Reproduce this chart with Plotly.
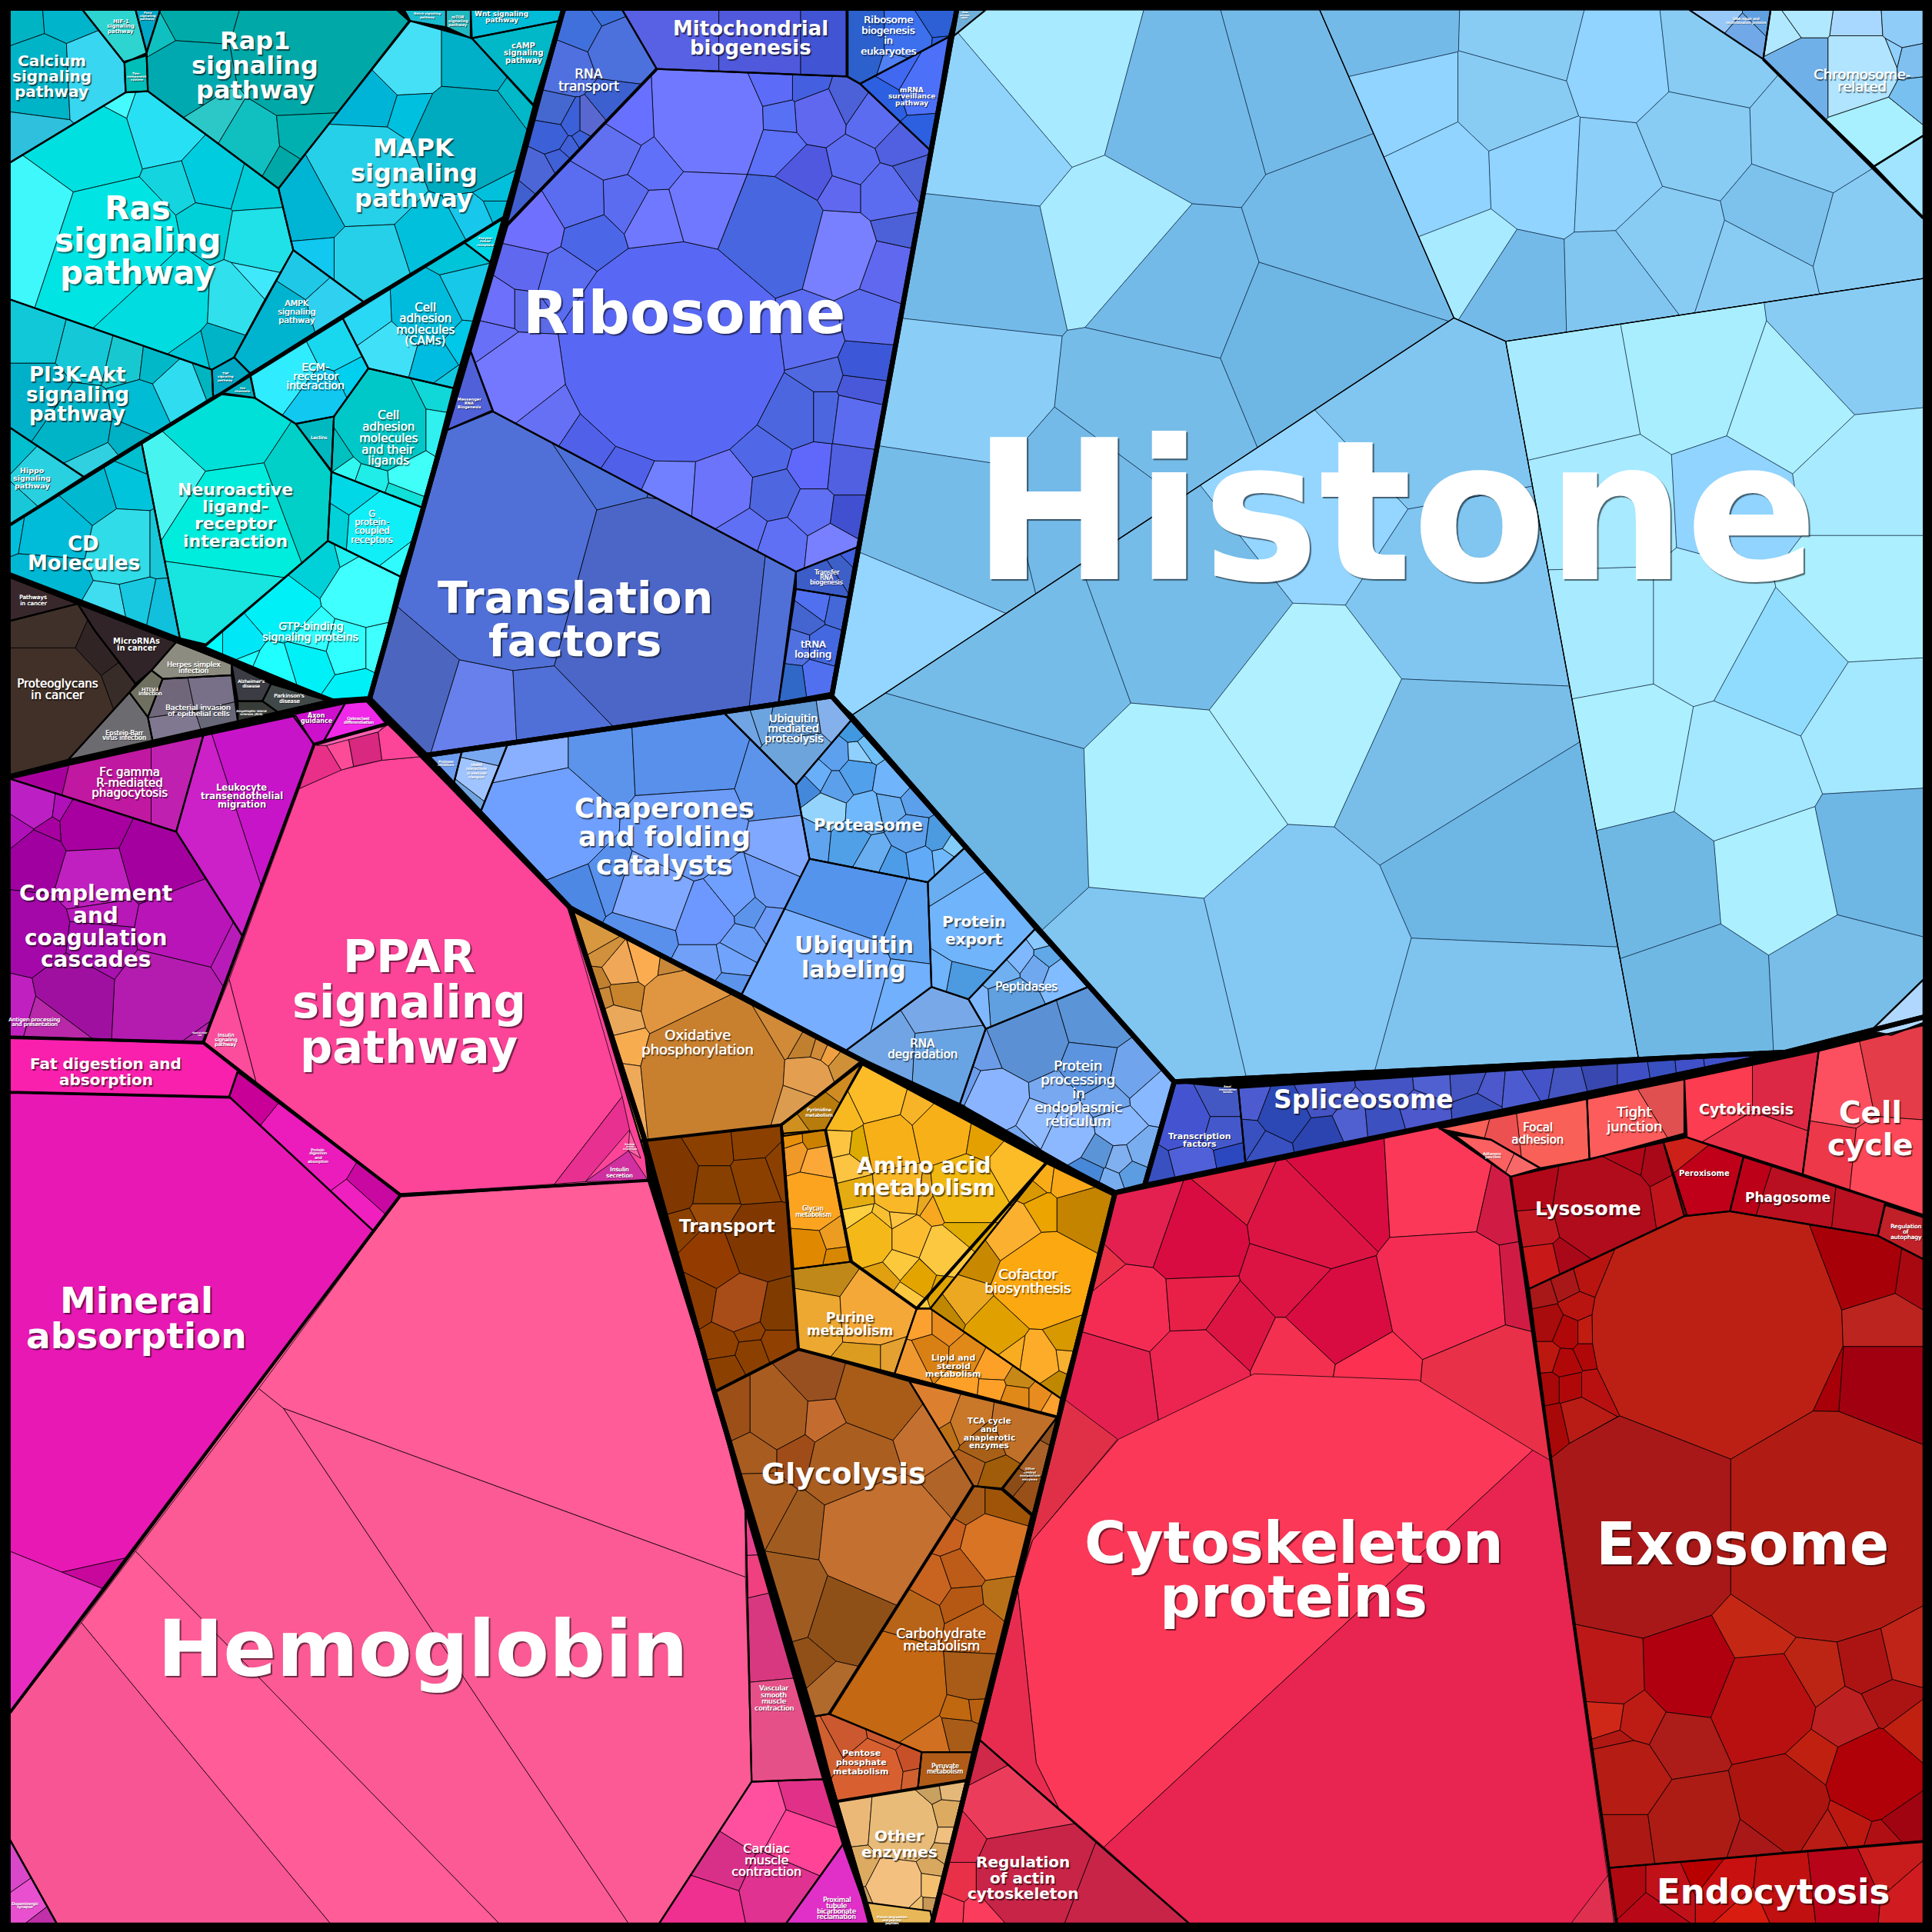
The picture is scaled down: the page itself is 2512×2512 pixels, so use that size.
import plotly.graph_objects as go

# A cell is (x, y, r, colour): a seed and its weight. A group is (outline, cells or one colour).

TOP_OUTLINES = [
    [(5,5),(458,5),(300,567),(270,569),(5,466)],
    [(5,466),(270,569),(55,618),(5,631)],
    [(5,631),(270,569),(298,568),(463,737),(522,921),(579,1127),(708,1563),(5,1563)],
    [(463,737),(905,968),(756,1563),(708,1563),(579,1127),(522,921)],
    [(905,968),(1449,854),(1563,825),(1563,1563),(756,1563)],
    [(458,5),(777,5),(675,565),(346,613),(300,567)],
    [(346,613),(675,565),(953,878),(929,962),(905,968),(463,737)],
    [(953,878),(1449,854),(929,962)],
    [(777,5),(1563,5),(1563,825),(1449,854),(953,878),(675,565)],
]
WALLS = [
    [(408,177),(8,426)], [(1431,48),(1561,177)], [(255,604),(165,846),(325,970),(526,958)], [(8,842),(165,846)],
    [(325,970),(8,1390)], [(255,604),(313,588)], [(520,926),(634,913),(648,1095),(581,1129)], [(648,1095),(858,1150)],
    [(790,1206),(673,1391)], [(679,1462),(784,1445)], [(1226,955),(1312,1561)], [(411,183),(533,56)], [(634,913),(700,862)],
    [(670,917),(691,1024),(744,1062),(849,944)],
]

CYAN_GROUPS = [
    ([(8,8),(67,8),(101,51),(102,75),(8,132)], [(32,62,25,"#00b4c8"),(75,60,22,"#38d6f0"),(25,115,10,"#2ec0dc"),(15,14,4,"#00b4c4"),(55,11,4,"#00b4cc")]),
    ([(67,8),(110,8),(119,43),(101,51)], "#2dd4d0"),
    ([(110,8),(130,8),(119,42)], "#00a8c8"),
    ([(101,50),(119,45),(120,74),(102,75)], "#00bfb8"),
    ([(130,8),(322,8),(332,17),(246,127),(226,153),(120,74),(119,43)], [(245,45,45,"#00a8a8"),(150,18,12,"#00aaa8"),(147,63,28,"#00a9b0"),(128,30,9,"#0fc0c0"),(170,100,14,"#2cc8c8"),(200,118,20,"#10bfc0"),(248,113,12,"#00b0b0"),(233,137,7,"#00a8a8")]),
    ([(328,8),(362,8),(362,22),(333,17)], "#1abcd0"),
    ([(362,8),(382,8),(382,31),(362,22)], "#20b8c0"),
    ([(382,8),(459,8),(454,17),(383,31)], "#00bcd8"),
    ([(383,31),(454,17),(433,85)], "#00b8c8"),
    ([(333,17),(383,31),(433,86),(409,177),(295,245),(238,203),(226,153),(246,127)], [(330,50,24,"#45e0f5"),(385,50,22,"#00b0c8"),(300,80,17,"#00b4d8"),(332,90,6,"#00c0e0"),(380,112,40,"#00aabf"),(297,143,38,"#26d0e8"),(253,167,22,"#00b4d4"),(300,213,27,"#26d0e8"),(350,197,22,"#00c0dc"),(257,213,10,"#10c8f0"),(387,177,9,"#18c8ec"),(403,170,5,"#00bcd8"),(403,157,4,"#00c0dc"),(425,78,5,"#00b8c8")]),
    ([(238,203),(295,245),(203,303),(190,290),(213,247)], [(230,256,16,"#00b4d0"),(268,245,13,"#30d0f0"),(250,225,10,"#20c8e8")]),
    ([(120,74),(226,153),(238,203),(190,290),(172,300),(8,243),(8,132),(102,75)], [(133,103,28,"#28e0f4"),(72,122,38,"#00e0e0"),(30,180,40,"#3ff8fc"),(90,200,55,"#00e4e4"),(173,140,24,"#00cce0"),(143,150,15,"#14d4e0"),(207,150,16,"#00ccd8"),(165,185,15,"#00d0d8"),(210,193,20,"#20e0e8"),(127,240,42,"#00dce0"),(190,243,20,"#30e0ec"),(202,232,8,"#40e8fc"),(177,283,9,"#00b4c8"),(90,88,7,"#44fcff"),(160,287,5,"#00c8d8")]),
    ([(8,243),(172,300),(173,322),(68,387),(8,347)], [(30,273,18,"#10c8d8"),(70,283,20,"#14c8d8"),(100,290,14,"#18c8d0"),(30,320,22,"#00b0c8"),(63,343,25,"#00b4c8"),(112,333,18,"#00bcd4"),(147,317,17,"#30dcf0"),(165,310,5,"#00b4c0"),(77,373,8,"#30d0e0"),(105,350,12,"#00b0c4"),(125,293,8,"#00b8c8")]),
    ([(8,347),(68,387),(8,426)], [(33,387,16,"#28d0e0"),(10,365,6,"#00c0d0"),(12,410,5,"#18c8d8")]),
    ([(377,197),(408,177),(398,213)], "#00d8e8"),
    ([(278,258),(377,197),(398,213),(368,315),(299,299)], [(345,253,25,"#00bcdc"),(377,237,14,"#18c8e8"),(370,207,5,"#00c4d8"),(297,255,17,"#28d8f4"),(317,283,18,"#40e0f8"),(353,293,14,"#00bce0"),(373,280,9,"#00c8e8"),(363,307,4,"#10c8e0")]),
    ([(203,303),(278,258),(299,299),(271,338),(240,344),(207,323)], [(233,300,20,"#30ecff"),(273,280,15,"#18d8f0"),(260,320,16,"#10c8f0"),(287,307,8,"#00d0f0")]),
    ([(172,300),(190,290),(203,303),(180,319),(173,322)], "#00a8c4"),
    ([(180,319),(203,305),(207,323)], "#00b0c0"),
    ([(240,344),(271,338),(269,382)], "#00b8c0"),
    ([(271,338),(299,299),(368,315),(343,412),(269,383)], [(312,347,32,"#00c8c8"),(362,322,5,"#10d8d8"),(358,347,6,"#30f0f0"),(333,387,12,"#40fff8"),(300,390,7,"#20ece8"),(280,383,5,"#30f8f0"),(328,400,6,"#10e0d8"),(273,373,5,"#00c0c0")]),
    ([(269,383),(343,412),(325,468),(266,439)], [(287,400,10,"#00d8e8"),(310,430,25,"#10eef8"),(270,427,4,"#00d0d8"),(323,447,12,"#30fcff")]),
    ([(266,439),(325,468),(300,568),(270,568),(166,525)], [(193,525,12,"#00e8f8"),(257,457,18,"#00d0d8"),(293,480,25,"#40ffff"),(277,452,5,"#20f0f0"),(230,493,20,"#00f0f8"),(280,525,17,"#30ffff"),(253,535,15,"#00f0f8"),(220,545,14,"#20ffff"),(197,535,8,"#20ffff"),(287,559,8,"#00f0f8"),(257,519,14,"#30ffff"),(175,525,5,"#00ffff"),(303,525,6,"#40ffff")]),
    ([(115,360),(180,320),(207,323),(240,344),(269,383),(266,439),(167,523),(146,518)], [(177,350,28,"#00e0d8"),(140,390,20,"#48f4f0"),(187,420,38,"#00ecdd"),(248,397,18,"#00d0c8"),(177,493,25,"#18e4e0")]),
    ([(8,426),(115,360),(146,518),(8,465)], [(25,427,8,"#00c0dc"),(70,400,18,"#00b8d0"),(103,390,12,"#00c4dc"),(43,430,25,"#00bcd8"),(40,467,20,"#00b8d4"),(100,443,22,"#30dce8"),(128,443,7,"#18c8d8"),(92,497,6,"#40dcf0"),(112,493,9,"#18c8e0"),(132,497,10,"#10c0dc"),(107,380,5,"#00c0d0")]),
]

DISEASE_GROUPS = [
    ([(8,504),(63,490),(77,512),(110,555),(105,562),(55,617),(8,629)], [(40,572,45,"#403028"),(40,510,12,"#40302a"),(85,530,6,"#302424"),(100,550,3,"#382c28")]),
    ([(8,467),(63,490),(8,504)], "#38282c"),
    ([(63,490),(143,521),(123,544),(110,555),(77,512)], "#302428"),
    ([(143,521),(188,539),(188,548),(132,551),(123,544)], "#8c8c80"),
    ([(123,544),(132,551),(120,582),(105,562)], "#707060"),
    ([(132,551),(188,548),(193,586),(124,602),(120,582)], [(140,569,12,"#70687a"),(173,562,14,"#787088"),(143,590,12,"#807890"),(177,579,10,"#686878")]),
    ([(105,562),(120,582),(124,602),(55,617)], "#6c6c70"),
    ([(188,539),(220,555),(213,569),(193,569)], "#3c3c44"),
    ([(220,555),(267,569),(227,579),(213,569)], "#404848"),
    ([(193,569),(213,569),(227,579),(193,586)], "#383c38"),
]

PINK_GROUPS = [
    ([(8,632),(55,621),(165,597),(143,675)], [(25,626,9,"#a8009c"),(93,642,30,"#c018a0"),(137,642,15,"#c020b0")]),
    ([(165,597),(240,581),(255,605),(197,760),(143,675)], [(177,675,28,"#cc20c8"),(217,662,30,"#c814c8")]),
    ([(237,580),(280,571),(263,601),(255,604)], "#cc10cc"),
    ([(280,571),(298,569),(313,587),(263,601)], "#f028e8"),
    ([(8,632),(143,675),(197,760),(165,846),(8,841)], [(27,652,17,"#bc20c4"),(50,655,7,"#b010b8"),(75,670,25,"#a800a0"),(13,674,8,"#b010b8"),(40,672,4,"#a800a0"),(30,695,18,"#a000a0"),(127,695,28,"#a400a0"),(77,709,25,"#c020c0"),(23,758,25,"#a408a8"),(80,765,15,"#a810b0"),(150,755,30,"#b814b8"),(137,809,36,"#b41cb0"),(58,805,22,"#a010a0"),(10,815,6,"#c020c0"),(43,825,10,"#b828a8"),(82,742,8,"#b818b8"),(190,775,3,"#b81cb8"),(157,837,5,"#b020a8")]),
    ([(8,842),(165,847),(193,869),(186,890),(8,886)], "#f820ac"),
    ([(193,870),(325,970),(303,999),(186,890)], [(252,930,25,"#ec1cbc"),(311,966,4,"#c808a0"),(293,986,5,"#f020c0"),(193,882,3,"#c80098")]),
    ([(8,887),(187,891),(303,999),(85,1290),(8,1390)], "#e818b4"),
    ([(255,604),(315,588),(343,614),(460,734),(522,921),(526,958),(325,969),(165,847),(197,759)], "#fc4498"),
    ([(325,971),(526,958),(579,1127),(605,1226),(610,1446),(535,1561),(46,1561),(8,1493),(8,1390)], "#ff5c98"),
    ([(605,1226),(610,1446),(668,1444),(605,1226)], [(620,1323,20,"#d83880"),(628,1408,26,"#e65088"),(609,1275,5,"#f04080"),(608,1250,3,"#e8408c")]),
    ([(610,1446),(668,1444),(684,1497),(638,1561),(535,1561)], [(659,1459,14,"#e03088"),(611,1473,20,"#ff50a0"),(647,1493,18,"#ff4498"),(586,1513,15,"#d83088"),(576,1544,15,"#f03090"),(630,1533,22,"#e03290")]),
    ([(684,1497),(707,1561),(638,1561)], "#e030c8"),
    ([(8,1493),(46,1561),(8,1561)], [(28,1540,12,"#e850d0"),(38,1553,4,"#c030a8"),(14,1520,5,"#d848c8")]),
]

ORANGE_GROUPS = [
    ([(463,737),(699,861),(634,913),(520,926)], [(552,814,25,"#e09640"),(481,761,10,"#d89840"),(502,786,11,"#f0a858"),(523,780,7,"#fcac50"),(546,783,4,"#c88838"),(489,775,6,"#d0903c"),(487,794,4,"#c08030"),(504,807,6,"#c8842c"),(491,810,3,"#c88838"),(499,828,9,"#eaa85a"),(504,849,6,"#f8ac50"),(500,878,9,"#eeaa58"),(579,870,55,"#c8802f"),(636,836,13,"#d08a38"),(657,875,14,"#e49e50"),(651,892,8,"#dc9c50"),(655,847,5,"#c08030"),(665,850,4,"#d08a38"),(674,854,3,"#f0a040"),(686,864,8,"#d09038")]),
    ([(634,913),(700,862),(670,917),(636,922)], [(661,902,9,"#b87c0c"),(682,875,5,"#d08c20"),(643,915,4,"#d09020")]),
    ([(670,917),(700,864),(849,944),(755,1062),(744,1062),(691,1024)], [(713,890,18,"#fcbc28"),(682,905,10,"#f8b820"),(746,899,8,"#f8b428"),(681,929,8,"#fcc440"),(697,931,5,"#dcaa00"),(722,926,18,"#f8b018"),(764,917,20,"#f8b018"),(800,923,7,"#e4a000"),(824,944,15,"#fcbc28"),(685,947,8,"#fcc440"),(691,971,10,"#e4ac10"),(694,987,8,"#fcd040"),(706,1005,18,"#f4b818"),(716,993,5,"#f8c030"),(729,991,3,"#fcc440"),(737,1005,13,"#fcbc30"),(761,977,8,"#f8a820"),(752,971,6,"#e8a820"),(782,968,25,"#f0b810"),(782,999,9,"#e0ac00"),(767,1017,17,"#fcc840"),(731,1024,8,"#fcc83c"),(747,1038,10,"#e4a400"),(716,1038,6,"#e0a010"),(737,1053,5,"#fcc840"),(764,1044,4,"#e0a400"),(731,968,15,"#f8b828")]),
    ([(635,920),(670,917),(690,1024),(644,1030)], [(643,926,4,"#e8900c"),(661,925,6,"#cc8000"),(646,935,6,"#f09828"),(664,941,9,"#fca838"),(658,975,20,"#fca420"),(655,1014,11,"#e08800"),(679,1005,5,"#ec9c20"),(681,1020,4,"#d88800")]),
    ([(849,944),(905,971),(861,1135),(755,1062)], [(875,984,12,"#c48400"),(844,953,5,"#f8ac18"),(867,956,8,"#f8a818"),(834,965,5,"#d89800"),(819,999,22,"#fcb030"),(843,984,8,"#eca400"),(846,1038,35,"#fca810"),(794,1017,14,"#c88800"),(782,1056,10,"#eca820"),(770,1065,4,"#c08800"),(807,1080,17,"#e0a000"),(843,1105,15,"#fcac28"),(823,1102,8,"#f8ac20"),(864,1102,5,"#f8b030"),(865,1090,5,"#d89800"),(855,1123,5,"#c08800")]),
    ([(643,1030),(691,1024),(744,1062),(726,1115),(648,1095)], [(667,1035,6,"#c08818"),(661,1068,14,"#eca830"),(710,1065,22,"#f4a838"),(707,1106,5,"#dc9c20"),(723,1106,6,"#e4a030")]),
    ([(744,1062),(755,1062),(861,1135),(858,1150),(726,1115)], [(746,1075,8,"#fca030"),(767,1075,8,"#e88c20"),(752,1096,9,"#d88014"),(740,1102,8,"#f09830"),(788,1099,9,"#e08818"),(806,1108,12,"#fca028"),(805,1128,9,"#fca028"),(785,1126,5,"#fca028"),(826,1120,6,"#c88818"),(824,1135,10,"#e08818"),(843,1135,6,"#e88c20"),(853,1141,3,"#fca030")]),
    ([(520,926),(634,913),(648,1095),(581,1129)], [(540,956,25,"#803800"),(579,932,12,"#8c4000"),(610,929,12,"#8c4000"),(579,962,14,"#884000"),(612,953,13,"#8c4000"),(579,985,6,"#9c4c08"),(552,999,6,"#8c4000"),(616,1008,24,"#803800"),(576,1023,20,"#943c00"),(561,1053,18,"#8c3c00"),(600,1059,19,"#a84c18"),(631,1065,12,"#803c00"),(608,1080,4,"#904000"),(585,1092,9,"#904000"),(631,1091,8,"#904000"),(588,1111,9,"#8c4000"),(610,1099,8,"#8c4000"),(628,947,3,"#8c4000")]),
    ([(581,1129),(648,1095),(738,1121),(790,1206),(673,1391),(661,1393)], [(596,1150,14,"#9c5018"),(630,1150,22,"#a85c20"),(664,1118,10,"#985020"),(712,1132,28,"#a85c18"),(667,1153,6,"#c46c30"),(646,1180,5,"#a04c18"),(610,1180,14,"#a85c20"),(690,1190,30,"#aa5e20"),(757,1169,17,"#c47030"),(776,1198,6,"#b06428"),(611,1225,28,"#a85c20"),(648,1245,22,"#a05c20"),(715,1252,50,"#c47030"),(640,1294,34,"#a05c20"),(690,1310,35,"#8f5018"),(656,1350,12,"#905018"),(676,1372,14,"#b06a2c")]),
    ([(738,1121),(858,1150),(813,1208),(790,1206)], [(758,1147,13,"#dc8030"),(782,1156,8,"#c87828"),(828,1162,12,"#c07028"),(788,1192,8,"#b0601c"),(806,1198,8,"#a05c08"),(767,1162,5,"#bc7018"),(797,1174,9,"#a86018")]),
    ([(858,1150),(838,1229),(814,1208)], [(849,1159,5,"#8c5020"),(837,1180,9,"#a86028"),(833,1213,5,"#985018"),(822,1204,4,"#8c4c18")]),
    ([(790,1206),(813,1209),(837,1230),(789,1422),(748,1422),(673,1391)], [(726,1368,38,"#c46814"),(742,1311,14,"#b86418"),(784,1220,8,"#a85a18"),(815,1220,8,"#a05408"),(805,1255,22,"#d87424"),(769,1246,6,"#c86020"),(757,1283,12,"#c86420"),(780,1275,12,"#bc5c18"),(782,1300,10,"#b45814"),(811,1297,4,"#b87018"),(792,1320,14,"#bc6018"),(790,1363,14,"#a85c18"),(757,1414,6,"#d07020"),(782,1408,10,"#a85c18"),(784,1389,3,"#c06810"),(791,1388,3,"#b86010")]),
    ([(661,1393),(673,1391),(748,1422),(745,1451),(679,1462)], [(675,1420,8,"#d06030"),(686,1414,10,"#cc5830"),(707,1439,24,"#d86030"),(739,1428,6,"#c85028"),(742,1443,3,"#d06030"),(720,1408,5,"#cc5830")]),
    ([(748,1422),(789,1422),(784,1445),(745,1451)], "#b05c18"),
    ([(679,1462),(784,1445),(756,1561),(705,1561)], [(695,1479,15,"#ecb878"),(732,1482,28,"#e8bc78"),(767,1473,8,"#dcaa60"),(769,1451,4,"#e4b878"),(757,1453,3,"#c8a060"),(767,1490,4,"#f0c080"),(766,1503,5,"#d8a860"),(757,1516,5,"#d8a860"),(699,1516,13,"#dcaa60"),(726,1530,22,"#f4c080"),(755,1530,8,"#f4c070"),(742,1547,6,"#ecc070"),(754,1547,3,"#c89858"),(703,1540,3,"#c8a060")]),
    ([(703,1544),(755,1551),(757,1561),(708,1561)], "#e8b858"),
]

RED_GROUPS = [
    ([(905,968),(1166,914),(1226,955),(1312,1561),(965,1561),(795,1412)], [(927,990,32,"#e42050"),(967,1004,32,"#d80c40"),(1002,962,8,"#e02040"),(1064,990,40,"#dc1444"),(1082,972,35,"#d80c40"),(1051,1032,25,"#dc1444"),(1086,1065,32,"#d80c40"),(1170,967,35,"#fc3858"),(1175,1046,45,"#f42c54"),(1215,977,12,"#d01c44"),(1226,1042,10,"#d01c44"),(918,1060,27,"#f42c54"),(969,1056,17,"#e82048"),(1002,1079,14,"#dc1444"),(971,1112,28,"#ec2450"),(900,1121,28,"#e42050"),(1051,1102,18,"#f43050"),(1113,1112,10,"#fc3050"),(1206,1120,35,"#e83048"),(892,1028,5,"#e83048"),(1050,1350,200,"#fc3858")]),
    ([(795,1412),(965,1561),(756,1561)], [(800,1425,10,"#d02848"),(819,1462,24,"#ec3c5c"),(830,1525,35,"#c82448"),(775,1525,10,"#e83048"),(765,1550,6,"#f83858"),(800,1552,8,"#fc3c5c"),(775,1500,7,"#e02c4c"),(900,1552,12,"#c82448")]),
    ([(1241,1046),(1367,987),(1404,983),(1524,1003),(1561,1022),(1561,1495),(1306,1516),(1258,1177)], [(1392,1079,100,"#bc2014"),(1516,1032,25,"#a80008"),(1551,1037,12,"#a80810"),(1529,1074,22,"#bc2420"),(1529,1126,35,"#a00010"),(1487,1123,6,"#a80008"),(1330,1238,85,"#a81818"),(1485,1238,90,"#b01c14"),(1255,1074,9,"#a80c0c"),(1250,1049,5,"#a81818"),(1272,1042,6,"#a81818"),(1290,1037,9,"#b81410"),(1281,1060,6,"#b81410"),(1272,1081,7,"#b00808"),(1290,1081,8,"#c01c10"),(1255,1102,6,"#bc1810"),(1270,1107,5,"#b00808"),(1290,1098,5,"#b00808"),(1257,1126,6,"#a80808"),(1274,1126,6,"#b00808"),(1294,1126,7,"#b81010"),(1263,1154,7,"#a80808"),(1281,1150,12,"#b81c14"),(1305,1359,22,"#bc1818"),(1370,1357,30,"#b00010"),(1432,1382,35,"#b81010"),(1330,1396,8,"#bc1c14"),(1303,1392,7,"#d02818"),(1363,1413,14,"#ac1c18"),(1427,1326,8,"#c42814"),(1317,1443,28,"#b41c14"),(1317,1490,14,"#ac1814"),(1374,1482,30,"#ac1c14"),(1449,1464,30,"#ac1410"),(1520,1443,33,"#b00008"),(1471,1359,14,"#bc2414"),(1498,1396,13,"#bc2020"),(1520,1350,16,"#ac1414"),(1542,1345,14,"#c02418"),(1533,1378,8,"#ac1414"),(1502,1478,12,"#bc1810"),(1542,1475,12,"#a00410"),(1485,1487,8,"#b81c14"),(1529,1487,4,"#b01014"),(1423,1499,5,"#a81818"),(1476,1429,4,"#c02010"),(1312,1420,5,"#b01814"),(1553,1405,5,"#c02010")]),
    ([(1226,955),(1350,927),(1369,986),(1241,1046)], [(1301,981,38,"#b00c1c"),(1359,972,12,"#c0141c"),(1244,972,8,"#b00818"),(1321,941,8,"#b00818"),(1345,945,6,"#a80818"),(1246,995,12,"#c01820"),(1250,1028,14,"#c81818"),(1272,1023,8,"#a80818")]),
    ([(1350,927),(1369,923),(1415,939),(1404,983),(1367,987)], [(1383,962,18,"#c00018"),(1359,932,5,"#cc2018")]),
    ([(1415,939),(1530,976),(1524,1003),(1404,983)], [(1414,967,9,"#bc0018"),(1458,981,26,"#b81020"),(1507,986,12,"#b81020")]),
    ([(1530,978),(1561,988),(1561,1022),(1524,1003)], "#c02028"),
    ([(1168,916),(1288,892),(1290,941),(1250,948),(1210,925)], [(1255,916,20,"#f86058"),(1219,920,8,"#ec5050"),(1193,913,10,"#f86058")]),
    ([(1180,921),(1210,925),(1250,948),(1226,955)], [(1216,935,6,"#fc6060"),(1238,945,5,"#f86868")]),
    ([(1288,892),(1367,876),(1367,920),(1290,941)], [(1325,916,16,"#fc5c5c"),(1356,897,10,"#e05050")]),
    ([(1367,876),(1476,853),(1463,953),(1369,923)], [(1396,883,20,"#fc3c50"),(1445,883,15,"#dc2844"),(1427,934,20,"#e83048")]),
    ([(1476,853),(1561,832),(1561,986),(1463,953)], [(1494,883,25,"#fc5060"),(1538,874,25,"#e43c48"),(1485,939,20,"#ec3848"),(1533,944,30,"#fc4858")]),
    ([(1306,1516),(1561,1494),(1561,1561),(1312,1561)], [(1321,1531,10,"#b00810"),(1352,1531,12,"#c01018"),(1401,1531,14,"#c81010"),(1449,1536,20,"#c01010"),(1494,1531,22,"#b80418"),(1533,1513,12,"#c81c1c"),(1553,1536,10,"#d01c20"),(1383,1517,5,"#b80000"),(1339,1550,8,"#b80818"),(1418,1550,9,"#d81c10")]),
]

BLUE_GROUPS = [
    ([(458,8),(505,8),(533,56),(411,183)], [(472,22,12,"#4070dc"),(503,39,20,"#4c70dc"),(459,55,14,"#5070e0"),(497,86,10,"#3c60d0"),(480,100,9,"#5868d0"),(464,100,6,"#3c60d8"),(451,93,6,"#4468d0"),(448,111,10,"#3c60d8"),(462,120,5,"#4060d8"),(473,113,4,"#3c60d8"),(434,140,12,"#4c66d8"),(454,129,5,"#4060d8"),(420,157,7,"#4060d0"),(491,9,5,"#3c70dc")]),
    ([(412,183),(533,56),(687,62),(698,68),(755,122),(696,444),(646,464),(400,334),(382,285)], [(546,286,88,"#5868f4"),(575,97,42,"#7078ff"),(572,168,26,"#7078ff"),(628,190,40,"#4866e0"),(508,100,16,"#6870ff"),(533,179,19,"#7078ff"),(508,165,13,"#5c6cf0"),(531,134,12,"#6070f8"),(497,118,18,"#6070f0"),(469,166,17,"#5a6cf0"),(479,195,18,"#4c66e8"),(436,186,17,"#7070ff"),(429,218,15,"#6068f0"),(458,226,20,"#5a6cf0"),(408,250,12,"#6c70fa"),(425,250,10,"#5c6ce8"),(402,276,10,"#6870f8"),(422,304,30,"#7478ff"),(447,336,14,"#6670f4"),(480,358,14,"#5060e8"),(511,379,14,"#5060e8"),(544,394,18,"#7080ff"),(586,397,22,"#6c74fc"),(628,401,16,"#4e66e0"),(606,430,8,"#6070f4"),(636,440,14,"#6070f4"),(675,444,16,"#7880ff"),(659,415,14,"#6070f4"),(689,419,12,"#4050d0"),(689,383,14,"#5060e0"),(659,380,12,"#6068fc"),(643,336,22,"#4c66e0"),(664,336,14,"#4c66e0"),(620,369,14,"#5068e8"),(695,340,16,"#5c6cf0"),(700,317,8,"#4858d8"),(703,293,12,"#3c58d8"),(664,304,8,"#5068e0"),(656,272,22,"#5c6cf0"),(706,258,18,"#5c6cf0"),(720,218,22,"#6068f0"),(681,204,30,"#7880ff"),(726,190,12,"#4c60d8"),(720,157,18,"#5c6cf0"),(684,157,8,"#6068f0"),(656,140,13,"#5058e0"),(692,132,13,"#5c6cf0"),(739,143,10,"#4c60d8"),(731,118,12,"#5060e0"),(709,97,16,"#5c6cf0"),(687,82,11,"#4c60d8"),(664,93,18,"#6068f0"),(634,118,9,"#5c70f8"),(636,95,9,"#5870f4"),(656,72,9,"#4460e0"),(631,72,8,"#5c6cf8")]),
    ([(382,285),(400,333),(363,349)], "#5060d8"),
    ([(505,8),(687,8),(687,62),(533,56)], [(550,35,20,"#5860e4"),(620,35,25,"#5058dc"),(670,35,12,"#4054d4")]),
    ([(688,8),(776,8),(770,30),(698,68),(688,62)], [(700,36,14,"#2c60cc"),(737,36,16,"#3c70ec"),(765,18,8,"#2c60d4"),(734,47,12,"#5080f4"),(767,39,4,"#3060e0")]),
    ([(698,68),(770,30),(755,122)], [(717,79,7,"#2c60e0"),(745,70,10,"#4c70f8"),(748,114,4,"#2c60e0"),(728,60,5,"#4068f0")]),
    ([(363,349),(400,334),(646,464),(632,570),(346,613),(300,567)], [(420,460,75,"#5070d8"),(530,490,85,"#4c66c8"),(508,401,8,"#4c70d8"),(541,408,5,"#5074dc"),(634,501,8,"#5070d8"),(330,565,20,"#4c66c0"),(395,585,25,"#6880ec"),(434,583,18,"#5070d8")]),
    ([(646,464),(696,444),(689,485),(646,478)], [(667,469,8,"#3c5cc8"),(684,458,4,"#3c60c8"),(689,453,3,"#4060e0")]),
    ([(646,478),(689,485),(676,562),(632,570)], [(661,490,8,"#5070f0"),(681,494,5,"#4468d8"),(653,501,7,"#4464d0"),(645,526,9,"#5070e0"),(670,526,10,"#4468e0"),(664,548,8,"#5070f0"),(642,551,6,"#3068c8")]),
]

FOLDING_GROUPS = [
    ([(345,613),(375,609),(368,637)], "#6c9cf0"),
    ([(375,609),(412,604),(390,659),(368,637)], [(388,632,12,"#a0c4ff"),(378,645,6,"#70a4e0"),(393,610,5,"#78a8f0")]),
    ([(412,604),(586,577),(646,637),(657,697),(602,807),(463,737),(390,659)], [(435,616,20,"#88b0ff"),(489,616,22,"#5c94ec"),(552,613,36,"#5890ec"),(445,666,42,"#70a0ff"),(556,672,35,"#6c9cf8"),(529,727,25,"#80a8ff"),(575,744,17,"#6c98ff"),(596,727,12,"#70a0ff"),(634,638,6,"#5c94ec"),(640,691,13,"#80a8ff"),(628,719,13,"#6c9cf8"),(468,725,12,"#4c88e4"),(495,716,4,"#5890ec"),(521,755,14,"#5890ec"),(609,741,6,"#5c94ec"),(625,750,7,"#6c9cf8"),(603,766,11,"#6ca0f8"),(596,779,10,"#70a4fc"),(575,783,6,"#70a0f8"),(594,798,5,"#5c94ec")]),
    ([(586,577),(675,564),(693,582),(646,637)], [(644,582,16,"#6098d4"),(678,577,7,"#84b0ec"),(648,610,12,"#6ea4dc"),(602,582,6,"#70a4e4"),(617,577,5,"#6ca4e0")]),
    ([(646,637),(693,582),(783,688),(753,716),(657,697)], [(678,613,7,"#5ca0ee"),(663,630,7,"#68aef8"),(655,638,5,"#4488dc"),(695,628,9,"#50a0ec"),(726,633,11,"#70b4fc"),(678,638,7,"#5ca0ec"),(670,658,10,"#94d4fc"),(703,660,10,"#70b8fc"),(722,656,6,"#68aef0"),(743,649,6,"#5ca0ec"),(659,680,8,"#60a4f0"),(690,683,10,"#50a0e8"),(709,694,7,"#68aef0"),(726,702,6,"#4c9ce8"),(739,677,10,"#5ca0ec"),(762,680,5,"#4c9ae0"),(747,699,6,"#60aaf8"),(766,697,3,"#70b8fc"),(773,687,3,"#84ccf8"),(697,612,3,"#90d0ff"),(707,605,6,"#70c0f8"),(695,591,4,"#4098e0")]),
    ([(657,697),(753,716),(756,801),(686,853),(602,807)], [(690,727,30,"#5494ec"),(747,750,6,"#5ca0f0"),(667,794,45,"#78aeff"),(739,814,14,"#70b0fc")]),
    ([(753,716),(783,688),(840,754),(786,811),(756,801)], [(768,716,8,"#68aef0"),(789,750,30,"#70b4fc"),(778,797,5,"#4c9ae0"),(762,794,4,"#70b4fc")]),
    ([(840,754),(883,801),(800,835),(786,811)], [(821,814,16,"#60a0e0"),(842,786,5,"#70a8f0"),(827,775,6,"#80b8ff"),(863,794,12,"#80bcff"),(846,761,4,"#88c8ff"),(793,816,4,"#80b8ff"),(812,789,7,"#70b0f0"),(850,776,4,"#60a8e8")]),
    ([(686,853),(756,801),(786,811),(800,835),(779,896)], [(766,822,20,"#78a8e8"),(770,856,25,"#68a4e4"),(716,853,22,"#70a4e4")]),
    ([(800,835),(883,801),(953,878),(929,962),(905,968),(779,896)], [(834,844,28,"#5c90d4"),(888,828,20,"#5c94d8"),(919,872,13,"#70a4ec"),(884,864,16,"#5c94e0"),(808,892,22,"#8ab4ff"),(789,883,7,"#6c9cec"),(804,856,6,"#6c9ce8"),(854,889,8,"#78a8f0"),(900,892,8,"#70a4ec"),(934,889,9,"#88b8ff"),(865,920,18,"#8cb8ff"),(907,914,11,"#88b8ff"),(892,936,5,"#5c94d8"),(909,942,6,"#80b0f0"),(926,936,5,"#78aef0"),(919,953,7,"#5c9ce0"),(902,959,4,"#78aef0"),(884,953,5,"#4888d8"),(827,931,8,"#78a8f0"),(787,911,5,"#7aa8f0"),(846,911,15,"#90bcff")]),
]

SPLICE_GROUPS = [
    ([(953,878),(1005,883),(1011,946),(929,962)], [(962,911,15,"#4454d0"),(993,895,6,"#4458c4"),(993,920,10,"#4458cc"),(971,944,12,"#5060d8"),(936,953,5,"#3850c0"),(998,939,7,"#2c48c0")]),
    ([(1005,883),(1449,854),(1011,946)], [(1042,902,15,"#2c48b4"),(1073,925,10,"#2c44b0"),(1027,934,5,"#3850c0"),(1016,892,6,"#4c5cd0"),(1013,925,3,"#3850c0"),(1100,913,8,"#5060d0"),(1122,911,12,"#3c50c0"),(1153,902,11,"#4c58cc"),(1193,876,8,"#4454c0"),(1210,883,6,"#4c58cc"),(1232,885,8,"#4c5cd0"),(1201,899,6,"#3c50bc"),(1250,874,6,"#4454c8"),(1272,878,10,"#4454c0"),(1299,871,10,"#3848b0"),(1325,871,8,"#4050c4"),(1350,867,5,"#3850c0"),(1370,865,5,"#4050c8"),(1396,862,4,"#4050c8"),(1162,878,5,"#5060d0"),(1069,888,10,"#4454c4"),(1131,881,7,"#4454c4")]),
]

# the four big histone families have hairline borders
HISTONE_FAMILIES = [
    ([(777,8),(1071,8),(1180,258),(692,580),(675,565)], [(858,62,55,"#a8eaff"),(805,107,50,"#90d4fc"),(962,90,55,"#74bae8"),(1046,67,45,"#74bae8"),(906,191,42,"#a8eaff"),(1091,185,45,"#74bae8"),(951,230,42,"#74bae8"),(793,216,48,"#74bae8"),(1063,275,45,"#6eb6e4"),(782,315,50,"#8acef8"),(928,331,45,"#76bce8"),(765,427,50,"#76bce8"),(878,399,45,"#74bae8"),(732,506,45,"#94d6ff")]),
    ([(1071,8),(1371,8),(1431,48),(1521,135),(1561,177),(1561,226),(1222,277),(1180,258)], [(1130,31,20,"#74bae8"),(1240,34,25,"#88ccf4"),(1316,53,28,"#90d4ff"),(1389,45,30,"#88ccf4"),(1142,84,30,"#90d4ff"),(1226,84,32,"#88ccf4"),(1170,143,33,"#90d4ff"),(1248,140,33,"#90d4ff"),(1195,208,22,"#a8eaff"),(1229,230,25,"#74bae8"),(1307,143,28,"#8ccff8"),(1375,115,30,"#88ccf4"),(1355,194,28,"#88ccf4"),(1310,228,22,"#80c6f0"),(1467,112,30,"#88ccf4"),(1445,174,25,"#7cc2ec"),(1423,216,22,"#88ccf4"),(1518,194,28,"#88ccf4")]),
    ([(692,580),(1180,258),(1222,277),(1330,860),(953,878)], [(1153,331,55,"#80c6f0"),(1069,410,40,"#94d6ff"),(962,494,50,"#76bce8"),(1181,483,50,"#80c6f0"),(838,539,45,"#76bce8"),(1063,573,45,"#b0f0ff"),(805,657,60,"#6eb6e4"),(948,652,47,"#acefff"),(1175,624,52,"#78bee8"),(1220,697,60,"#6eb6e4"),(934,798,45,"#80c6f0"),(1052,770,52,"#84c8f4"),(1215,815,40,"#7ec4ee")]),
    ([(1222,277),(1561,226),(1561,795),(1518,837),(1449,854),(1330,860)], [(1277,315,45,"#a8eaff"),(1372,298,48,"#a8eeff"),(1453,326,42,"#acefff"),(1501,281,45,"#88ccf4"),(1299,410,45,"#a8eaff"),(1408,404,30,"#90d4ff"),(1512,388,40,"#a8eaff"),(1302,508,40,"#a8eaff"),(1380,508,38,"#a8eaff"),(1448,545,38,"#90dcff"),(1512,483,42,"#acefff"),(1518,590,42,"#a4e8ff"),(1321,612,38,"#acefff"),(1414,629,42,"#a4e8ff"),(1442,711,42,"#acefff"),(1347,719,40,"#70b8e4"),(1524,694,42,"#6eb6e4"),(1378,809,45,"#70b8e4"),(1496,803,45,"#78bee8")]),
]
HISTONE_SIDE_GROUPS = [
    ([(1371,8),(1437,8),(1431,48)], [(1400,12,5,"#98c8f8"),(1415,25,6,"#70a8e8"),(1428,12,4,"#60a0e0")]),
    ([(1431,48),(1437,8),(1561,8),(1561,110),(1521,135)], [(1462,53,17,"#70b0e8"),(1512,53,25,"#b0e4ff"),(1530,107,18,"#a8f0ff"),(1512,22,10,"#a8d8ff"),(1546,20,14,"#90ccf8"),(1462,15,6,"#b0e8ff"),(1552,50,6,"#80c0f0"),(1555,76,5,"#78c0f0"),(1448,25,4,"#b0e8ff"),(1532,45,4,"#90d0ff")]),
    ([(1521,135),(1561,110),(1561,177)], "#a0e4ff"),
    ([(1518,837),(1561,795),(1561,830),(1535,840)], "#b0d8ff"),
    ([(773,30),(800,8),(777,8)], "#70b0d8"),
]

# large cells with straight shared edges, painted over the seeded cells
PLAIN_CELLS = [
    ([(325,971),(526,958),(579,1127),(605,1226),(605,1280),(230,1143),(210,1127)], "#ff5c98"),
    ([(230,1143),(605,1280),(610,1446),(535,1561),(510,1561)], "#fc5a94"),
    ([(210,1127),(230,1143),(510,1561),(405,1561),(110,1259)], "#fc5a94"),
    ([(110,1259),(405,1561),(268,1561),(66,1317)], "#ff5c98"),
    ([(66,1317),(268,1561),(46,1561),(8,1493),(8,1390)], "#f85594"),
    ([(8,887),(187,891),(303,999),(104,1264),(50,1276),(8,1259)], "#e818b4"),
    ([(50,1276),(104,1264),(85,1290)], "#c8089c"),
    ([(8,1259),(85,1290),(8,1390)], "#e82cc0"),
    ([(243,640),(276,625),(310,617),(343,614),(460,734),(505,890),(450,961),(325,969),(208,879),(186,795)], "#fc4498"),
    ([(165,847),(186,795),(208,879)], "#fc4c9c"),
    ([(255,604),(265,605),(277,625),(243,640)], "#e83088"),
    ([(265,605),(283,600),(287,622),(277,625)], "#fc4c98"),
    ([(283,600),(307,594),(310,617),(287,622)], "#d82880"),
    ([(307,594),(315,588),(343,614),(310,617)], "#fc4498"),
    ([(257,605),(313,588),(307,594),(265,605)], "#fc60b0"),
    ([(450,961),(505,890),(511,917),(475,959)], "#e83090"),
    ([(475,959),(510,934),(526,958)], "#d030a0"),
    ([(510,934),(511,917),(520,940)], "#fc60a8"),
    ([(1018,1115),(1151,1120),(1244,1177),(896,1499),(859,1467),(841,1431),(826,1290),(838,1250),(908,1168)], "#fc3858"),
    ([(1244,1177),(1258,1185),(1310,1561),(965,1561),(896,1499)], "#e82450"),
    ([(863,1135),(907,1168),(838,1250),(824,1290)], "#e03048"),
    ([(826,1290),(841,1431),(859,1467),(795,1412)], "#e82c50"),
    ([(1275,1561),(1305,1522),(1310,1561)], "#e03050"),
]

# text (lines split by |), centre x, y of first line, line step, font px, bold
LABELS = [
    ("Histone",1132,415,0,254,1),("Hemoglobin",343,1338,0,102,1),("Ribosome",555,254,0,76,1),
    ("Translation|factors",467,485,35,57,1),("Cytoskeleton|proteins",1050,1252,44,74,1),("Exosome",1414,1253,0,76,1),
    ("Endocytosis",1439,1535,0,45,1),("PPAR|signaling|pathway",332,776,37,59,1),("Mineral|absorption",111,1055,29,47,1),
    ("Complement|and|coagulation|cascades",78,725,18,28,1),("Ras|signaling|pathway",112,169,26,42,1),
    ("Rap1|signaling|pathway",207,33,20,32,1),("MAPK|signaling|pathway",336,120,20.5,32,1),("Calcium|signaling|pathway",42,49,12.5,20,1),
    ("PI3K-Akt|signaling|pathway",63,304,16,26,1),("CD|Molecules",68,441,16,26,1),("Neuroactive|ligand-|receptor|interaction",191,397,14,22,1),
    ("Cell|adhesion|molecules|and their|ligands",315,337,9.3,15,0),("Cell|adhesion|molecules|(CAMs)",345,249.5,9,15,0),
    ("ECM-|receptor|interaction",256,298,7.5,14,0),("G|protein-|coupled|receptors",302,417,7,11.5,0),("GTP-binding|signaling proteins",252,508,9,14,0),
    ("AMPK|signaling|pathway",241,246,7,11,0),("cAMP|signaling|pathway",425,37,6,10,1),("Wnt signaling|pathway",407,11,5.2,9,1),
    ("HIF-1|signaling|pathway",98,17.5,4,7,1),("Foxo|signaling|pathway",120,10,2.7,4,1),("Two-|component|system",111,59.5,2.5,4,1),
    ("Notch signaling|pathway",347,11,3,4,1),("mTOR|signaling|pathway",372,14,3,5,1),("Enzyme-|linked|receptors",394,193,2.8,4,1),
    ("Lectins",259,355,0,6,0),("TNF|signaling|pathway",183,303,2.7,4,1),("Ion|channels",197,315,2.5,4,1),("Hippo|signaling|pathway",26,382,6.2,9.5,1),
    ("Pathways|in cancer",27,485,4.5,7.5,0),("Messenger|RNA|Biogenesis",381,324,3.3,5,1),("RNA|transport",478,60,10,17,0),
    ("Mitochondrial|biogenesis",609,23,16,26,1),("Ribosome|biogenesis|in|eukaryotes",721,16,8.5,13,0),("mRNA|surveillance|pathway",740,73,5.2,9,1),
    ("Transfer|RNA|biogenesis",671,465,4,8,0),("tRNA|loading",660,523,8,13,0),("Chromosome-|related",1511,60,10,18,0),
    ("DNA repair and|recombination proteins",1417,15,3.4,4.5,0),("Base|excision|repair",783,10,2.2,3,0),
    ("Ubiquitin|mediated|proteolysis",644,583,8,14,0),("Proteasome",705,670,0,21,1),("Chaperones|and folding|catalysts",539,656,23,35,1),
    ("Ubiquitin|labeling",693,767,20,30,1),("Protein|export",790,748,14,20,1),("Peptidases",833,801,0,15,0),("RNA|degradation",749,847,8.5,15,0),
    ("Protein|processing|in|endoplasmic|reticulum",875,865,11.2,18,0),("Protease|inhibitors",362,618,2.7,4.5,0),("SNARE|interactions|in vesicular|transport",387,621,3.2,4.5,0),
    ("Oxidative|phosphorylation",566,840,12,18,0),("Pyrimidine|metabolism",665,901,4,6,0),("Amino acid|metabolism",750,946,18,28,1),
    ("Glycan|metabolism",660,981,5,8,0),("Cofactor|biosynthesis",834,1034,11.5,18,0),("Purine|metabolism",690,1069,11,17,1),
    ("Lipid and|steroid|metabolism",774,1102,6.7,11,1),("TCA cycle|and|anaplerotic|enzymes",803,1153,6.7,10.5,1),("Other|central|metabolism|enzymes",836,1192,2.8,4,1),
    ("Transport",590,995,0,23,1),("Glycolysis",685,1196,0,38,1),("Carbohydrate|metabolism",764,1326,10,17,0),
    ("Pentose|phosphate|metabolism",699,1423,7.3,11,1),("Pyruvate|metabolism",767,1433.5,4.5,8,0),("Other|enzymes",730,1490,13,20,1),
    ("Protein degradation|and peptidyl|peptides",724,1556,2.5,4,0),("Vascular|smooth|muscle|contraction",628,1370,5.5,9,0),("Cardiac|muscle|contraction",622,1500,9.5,16,0),
    ("Proximal|tubule|bicarbonate|reclamation",679,1542,4.5,8.5,0),("Insulin|secretion",503,949,5,7.5,0),("Proximal|tubule|bicarbonate",511,929,1.7,3,0),
    ("Insulin|signaling|pathway",183,840,3.8,6.5,0),("Protein|digestion|and|absorption",258,933,3.3,5,0),("Fat digestion and|absorption",86,863,13.5,20,1),
    ("Antigen processing|and presentation",28,828,3.7,7,0),("Natural killer|cell",162,838,2,3,0),("Fc gamma|R-mediated|phagocytosis",105,627,8.2,15,0),
    ("Leukocyte|transendothelial|migration",196,639,7,11.5,1),("Axon|guidance",257,581,4.5,8,1),("Osteoclast|differentiation",291,583,3.3,5.5,0),
    ("Proteoglycans|in cancer",47,555,9.5,15,0),("MicroRNAs|in cancer",111,520,6,10,1),("Herpes simplex|infection",157,539,5,9,0),("HTLV-I|infection",122,560,3.3,7,0),
    ("Epstein-Barr|virus infection",101,595,3.7,8,0),("Bacterial invasion|of epithelial cells",161,574,5,9.5,0),("Alzheimer's|disease",204,553,3.3,6,0),
    ("Parkinson's|disease",235,565,4.3,7,0),("Amyotrophic lateral|sclerosis (ALS)",204,577,2.7,4,0),("Spliceosome",1107,892,0,33,1),("Transcription|factors",974,922,6.5,11,1),
    ("Basal|transcription|factors",996,882,2.3,3.5,0),("Focal|adhesion",1248,915,10,15,0),("Adherens|junction",1211,936,3.3,5,0),("Tight|junction",1326,902,12,18,0),
    ("Cytokinesis",1417,900,0,19,1),("Cell|cycle",1518,903,26,39,1),("Lysosome",1289,981,0,25,1),("Peroxisome",1383,952,0,10,1),("Phagosome",1451,972,0,17,1),
    ("Regulation|of|autophagy",1547,995,4.5,7.5,0),("Regulation|of actin|cytoskeleton",830,1511,13,20,1),("Dopaminergic|synapse",20,1545,2.7,5,0),
]

ALL_GROUPS = CYAN_GROUPS + DISEASE_GROUPS + PINK_GROUPS + ORANGE_GROUPS + RED_GROUPS + BLUE_GROUPS + FOLDING_GROUPS + SPLICE_GROUPS + HISTONE_SIDE_GROUPS


def clip(poly, a, b, c):
    # keep the part of poly where a*x + b*y <= c
    out = []
    for i, p in enumerate(poly):
        q = poly[(i + 1) % len(poly)]
        dp = a * p[0] + b * p[1] - c
        dq = a * q[0] + b * q[1] - c
        if dp <= 0:
            out.append(p)
        if (dp < 0 < dq) or (dq < 0 < dp):
            t = dp / (dp - dq)
            out.append((p[0] + t * (q[0] - p[0]), p[1] + t * (q[1] - p[1])))
    return out


def power_cell(outline, cells, i):
    xi, yi, ri, _ = cells[i]
    poly = list(outline)
    for j, (xj, yj, rj, _) in enumerate(cells):
        if j == i or not poly:
            continue
        c = xj**2 + yj**2 - rj**2 - xi**2 - yi**2 + ri**2
        poly = clip(poly, 2 * (xj - xi), 2 * (yj - yi), c)
    return poly


def closed(poly):
    return [p[0] for p in poly] + [poly[0][0]], [p[1] for p in poly] + [poly[0][1]]


fig = go.Figure()


def add_fill(poly, color, edge="rgba(0,0,0,0.85)"):
    xs, ys = closed(poly)
    fig.add_trace(go.Scatter(x=xs, y=ys, mode="lines", fill="toself", fillcolor=color,
                             line=dict(color=edge, width=0.9), hoverinfo="skip"))


def add_lines(polys, width, close=True):
    xs, ys = [], []
    for poly in polys:
        px, py = closed(poly) if close else ([p[0] for p in poly], [p[1] for p in poly])
        xs += px + [None]
        ys += py + [None]
    fig.add_trace(go.Scatter(x=xs, y=ys, mode="lines", line=dict(color="black", width=width), hoverinfo="skip"))


def add_group(outline, cells, edge="rgba(0,0,0,0.85)"):
    if isinstance(cells, str):
        add_fill(outline, cells, edge)
        return
    for i in range(len(cells)):
        poly = power_cell(outline, cells, i)
        if len(poly) > 2:
            add_fill(poly, cells[i][3], edge)


for outline, cells in HISTONE_FAMILIES:
    add_group(outline, cells, "rgba(0,20,50,0.6)")
for outline, cells in ALL_GROUPS:
    add_group(outline, cells)
for poly, color in PLAIN_CELLS:
    add_fill(poly, color)

add_lines([g[0] for g in HISTONE_FAMILIES], 1.2)
add_lines([g[0] for g in ALL_GROUPS], 2.2)
add_lines(WALLS, 4, close=False)
add_lines(TOP_OUTLINES, 6.5)
add_lines([[(0, 0), (1568, 0), (1568, 1568), (0, 1568)]], 24)

for text, x, y, step, size, bold in LABELS:
    if size >= 40:
        shadow = "2px 2px 1px rgba(0,0,0,0.55)"
    elif size >= 12:
        shadow = "1.5px 1.5px 1px rgba(0,0,0,0.6)"
    else:
        shadow = "1px 1px 0.5px rgba(0,0,0,0.7)"
    if not bold:
        shadow = "0.5px 0 0 #fff," + shadow
    for n, line in enumerate(text.split("|")):
        fig.add_annotation(x=x, y=y + n * step, text=line, showarrow=False, xanchor="center", yanchor="middle",
                           font=dict(family="DejaVu Sans", size=size, color="white", shadow=shadow,
                                     weight="bold" if bold else "normal"))

fig.update_layout(
    width=2512, height=2512,
    margin=dict(l=0, r=0, t=0, b=0),
    showlegend=False,
    paper_bgcolor="black", plot_bgcolor="black",
    xaxis=dict(range=[0, 1568], visible=False),
    yaxis=dict(range=[1568, 0], visible=False),
)

fig.write_html("out.html", config={"displayModeBar": False},
               post_script="document.body.style.margin='0';document.body.style.background='black';")
